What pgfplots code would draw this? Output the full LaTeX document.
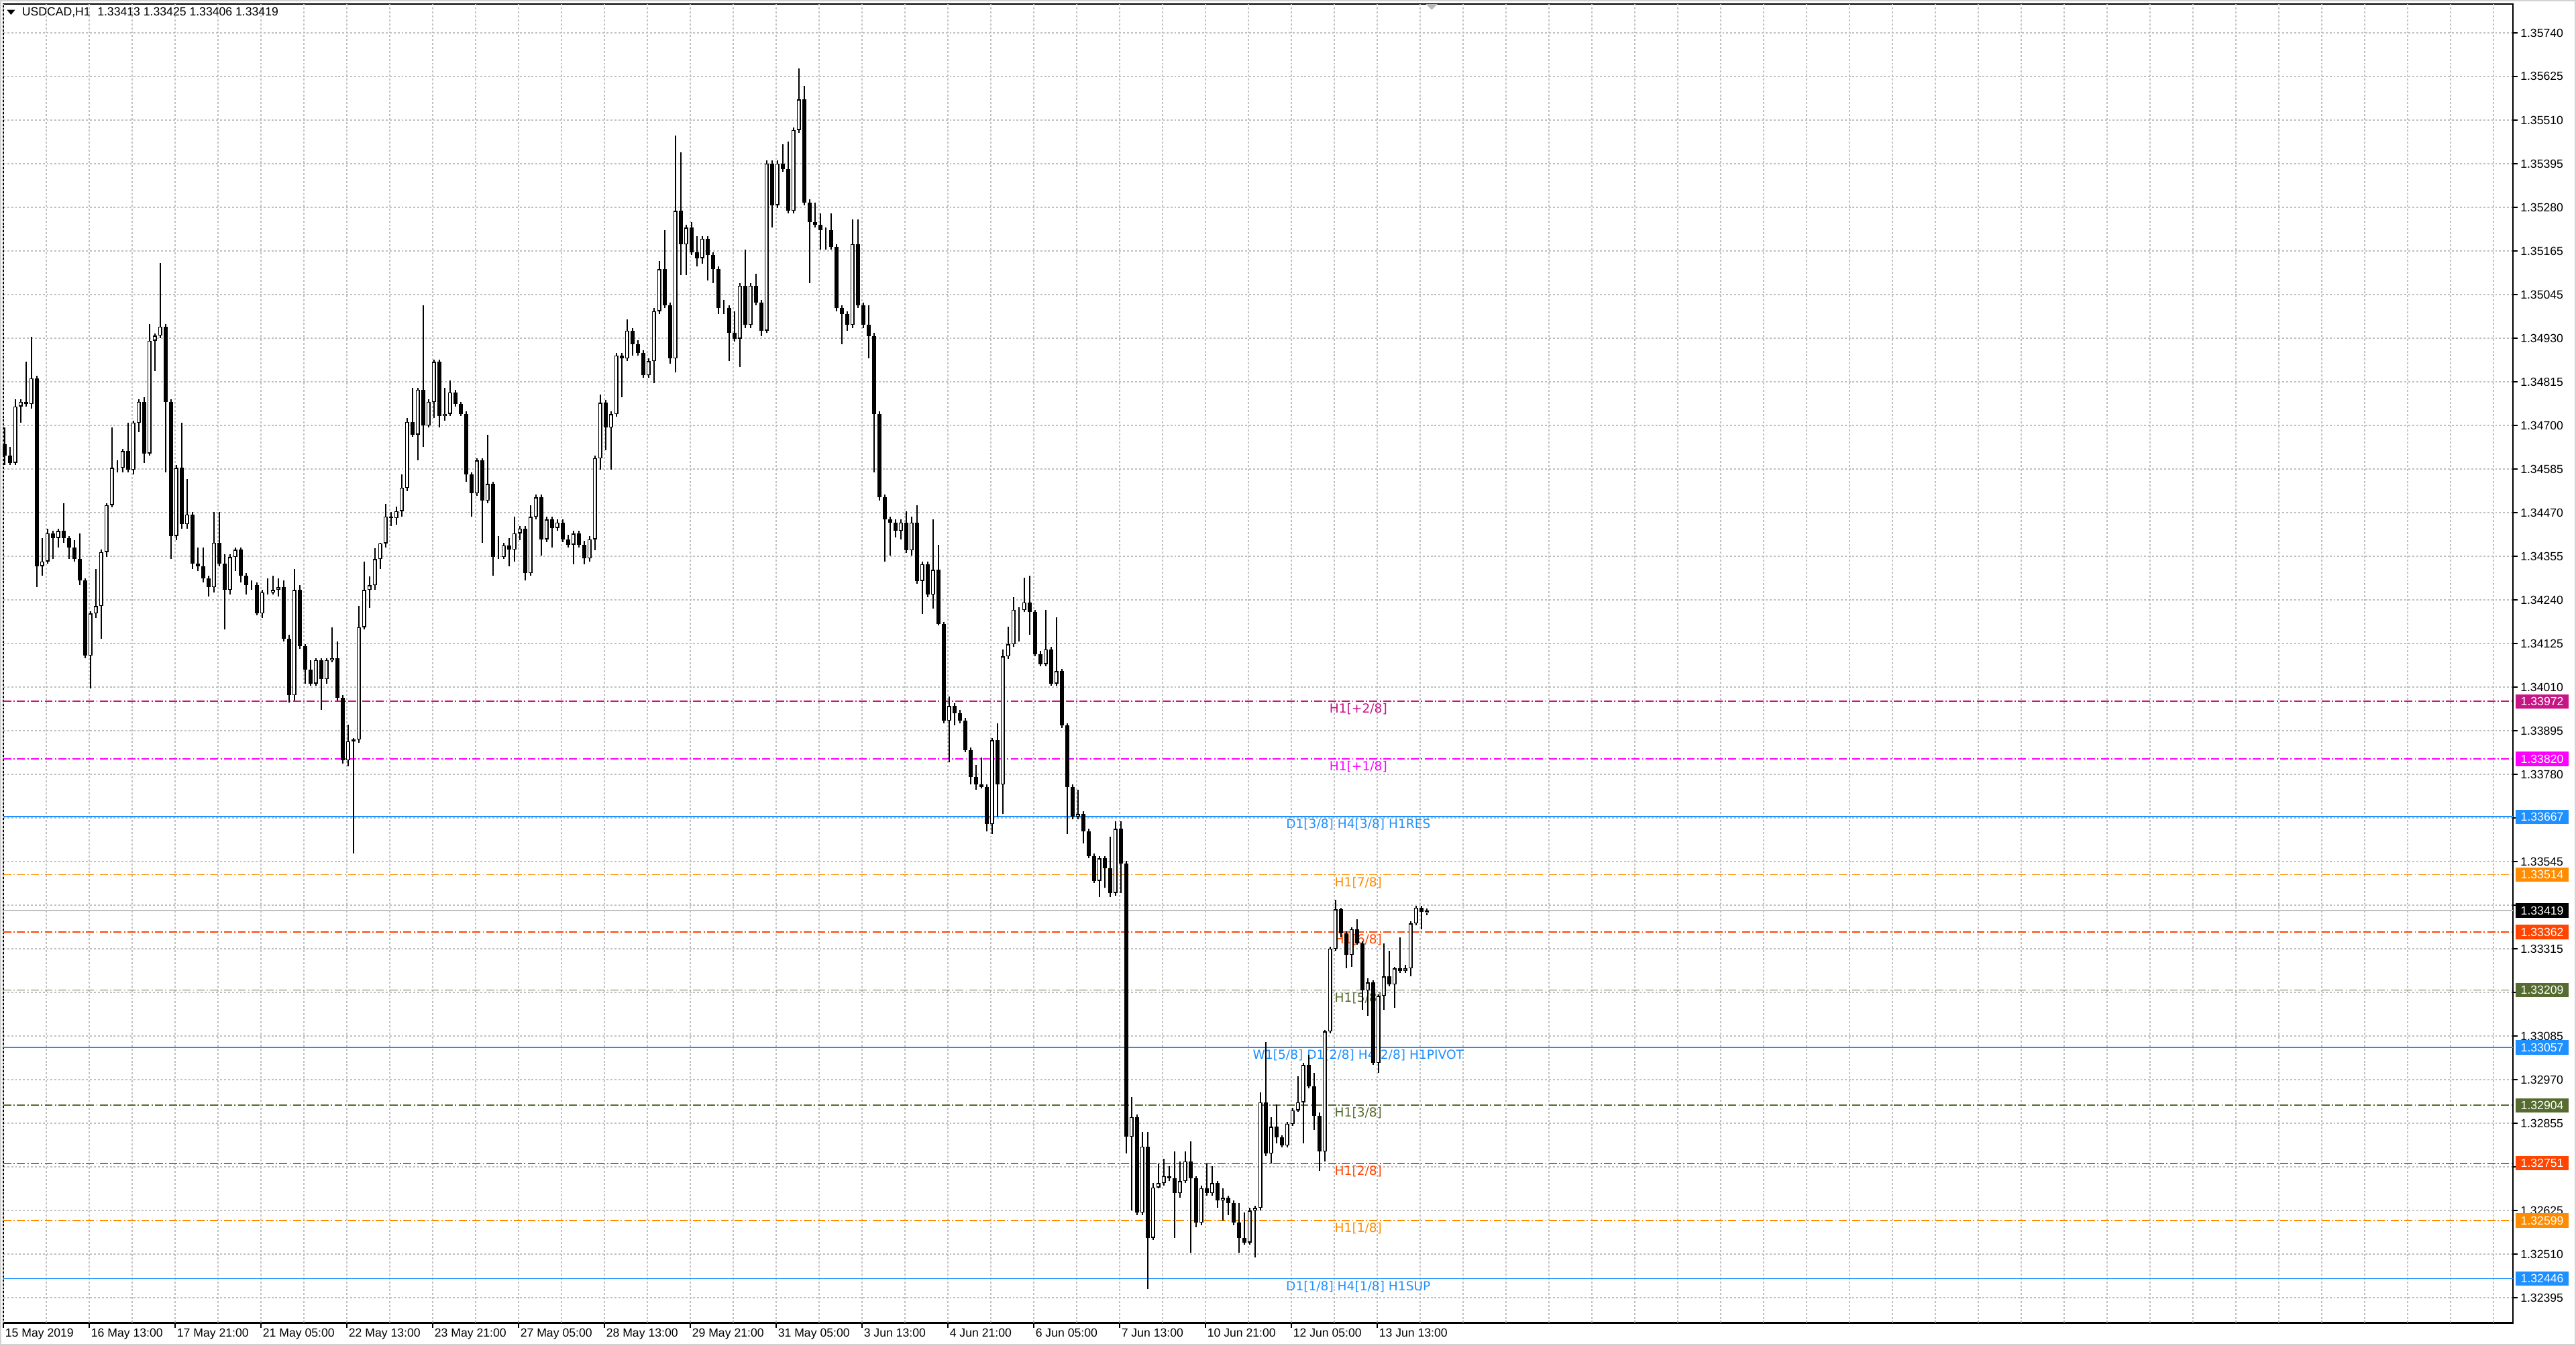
\documentclass[border=0pt]{standalone}
\usepackage{fontspec}
\setmainfont{Liberation Sans}
\newfontfamily\lvlfont{DejaVu Sans}
\usepackage{pgfplots}
\pgfplotsset{compat=1.18}
\usepackage{pgfplotstable}
\definecolor{mvr}{HTML}{C71585}
\definecolor{mag}{HTML}{FF00FF}
\definecolor{dblue}{HTML}{1E90FF}
\definecolor{dorange}{HTML}{FF8C00}
\definecolor{ored}{HTML}{FF4500}
\definecolor{olivec}{HTML}{556B2F}
\definecolor{gridc}{HTML}{C0C0C0}
\newcommand\tickfont{\fontsize{3.6pt}{4.3pt}\selectfont}
\newcommand\lblfont{\lvlfont\fontsize{3.8pt}{4.5pt}\selectfont}

\pgfplotstableread{
t o h l c
0.5 1.34653 1.34696 1.34597 1.34622
2.5 1.34622 1.34646 1.34597 1.34603
4.5 1.34603 1.34771 1.34597 1.34752
6.5 1.34752 1.34771 1.34709 1.34764
8.5 1.34764 1.34870 1.34752 1.34758
10.5 1.34758 1.34936 1.34746 1.34827
12.5 1.34827 1.34833 1.34274 1.34330
14.5 1.34330 1.34404 1.34305 1.34342
16.5 1.34342 1.34429 1.34336 1.34417
18.5 1.34417 1.34423 1.34348 1.34404
20.5 1.34404 1.34429 1.34379 1.34423
22.5 1.34423 1.34497 1.34392 1.34404
24.5 1.34404 1.34410 1.34348 1.34379
26.5 1.34379 1.34398 1.34342 1.34348
28.5 1.34348 1.34417 1.34280 1.34292
30.5 1.34292 1.34298 1.34087 1.34093
32.5 1.34093 1.34211 1.34006 1.34205
34.5 1.34205 1.34323 1.34193 1.34224
36.5 1.34224 1.34373 1.34137 1.34367
38.5 1.34367 1.34497 1.34354 1.34491
40.5 1.34491 1.34696 1.34485 1.34590
42.5 1.34590 1.34609 1.34578 1.34590
44.5 1.34590 1.34640 1.34578 1.34634
46.5 1.34634 1.34709 1.34578 1.34584
48.5 1.34584 1.34715 1.34572 1.34709
50.5 1.34709 1.34771 1.34684 1.34764
52.5 1.34764 1.34777 1.34603 1.34628
54.5 1.34628 1.34970 1.34622 1.34926
56.5 1.34926 1.34945 1.34845 1.34939
58.5 1.34939 1.35131 1.34932 1.34963
60.5 1.34963 1.34970 1.34578 1.34764
62.5 1.34764 1.34771 1.34348 1.34410
64.5 1.34410 1.34597 1.34398 1.34590
66.5 1.34590 1.34709 1.34429 1.34441
68.5 1.34441 1.34560 1.34429 1.34466
70.5 1.34466 1.34473 1.34323 1.34336
72.5 1.34336 1.34379 1.34317 1.34330
74.5 1.34330 1.34379 1.34286 1.34298
76.5 1.34298 1.34305 1.34249 1.34274
78.5 1.34274 1.34473 1.34261 1.34392
80.5 1.34392 1.34473 1.34330 1.34336
82.5 1.34336 1.34361 1.34162 1.34267
84.5 1.34267 1.34361 1.34255 1.34354
86.5 1.34354 1.34379 1.34317 1.34373
88.5 1.34373 1.34379 1.34286 1.34305
90.5 1.34305 1.34311 1.34255 1.34280
92.5 1.34280 1.34292 1.34267 1.34280
94.5 1.34280 1.34286 1.34199 1.34205
96.5 1.34205 1.34267 1.34193 1.34261
98.5 1.34261 1.34298 1.34255 1.34261
100.5 1.34261 1.34305 1.34255 1.34267
102.5 1.34267 1.34298 1.34249 1.34274
104.5 1.34274 1.34292 1.34131 1.34137
106.5 1.34137 1.34149 1.33969 1.33988
108.5 1.33988 1.34323 1.33975 1.34267
110.5 1.34267 1.34280 1.34112 1.34118
112.5 1.34118 1.34124 1.34019 1.34056
114.5 1.34056 1.34081 1.34013 1.34019
116.5 1.34019 1.34087 1.34013 1.34081
118.5 1.34081 1.34087 1.33950 1.34031
120.5 1.34031 1.34087 1.34019 1.34081
122.5 1.34081 1.34168 1.34075 1.34087
124.5 1.34087 1.34131 1.33975 1.33982
126.5 1.33982 1.33988 1.33808 1.33816
128.5 1.33816 1.33911 1.33801 1.33867
130.5 1.33867 1.33876 1.33570 1.33871
132.5 1.33871 1.34224 1.33863 1.34168
134.5 1.34168 1.34342 1.34162 1.34267
136.5 1.34267 1.34303 1.34220 1.34279
138.5 1.34279 1.34378 1.34267 1.34348
140.5 1.34348 1.34392 1.34323 1.34390
142.5 1.34390 1.34494 1.34379 1.34461
144.5 1.34461 1.34473 1.34435 1.34457
146.5 1.34457 1.34488 1.34439 1.34475
148.5 1.34475 1.34572 1.34460 1.34537
150.5 1.34537 1.34721 1.34528 1.34711
152.5 1.34711 1.34802 1.34671 1.34678
154.5 1.34678 1.34802 1.34609 1.34796
156.5 1.34796 1.35019 1.34646 1.34702
158.5 1.34702 1.34771 1.34696 1.34764
160.5 1.34764 1.34876 1.34721 1.34870
162.5 1.34870 1.34876 1.34696 1.34727
164.5 1.34727 1.34802 1.34715 1.34733
166.5 1.34733 1.34820 1.34727 1.34789
168.5 1.34789 1.34796 1.34752 1.34758
170.5 1.34758 1.34764 1.34727 1.34733
172.5 1.34733 1.34740 1.34553 1.34572
174.5 1.34572 1.34578 1.34460 1.34522
176.5 1.34522 1.34615 1.34516 1.34609
178.5 1.34609 1.34615 1.34392 1.34503
180.5 1.34503 1.34678 1.34497 1.34547
182.5 1.34547 1.34553 1.34305 1.34354
184.5 1.34354 1.34410 1.34348 1.34354
186.5 1.34354 1.34392 1.34348 1.34385
188.5 1.34385 1.34404 1.34330 1.34373
190.5 1.34373 1.34460 1.34342 1.34417
192.5 1.34417 1.34435 1.34398 1.34429
194.5 1.34429 1.34435 1.34292 1.34311
196.5 1.34311 1.34491 1.34305 1.34460
198.5 1.34460 1.34519 1.34453 1.34512
200.5 1.34512 1.34519 1.34357 1.34401
202.5 1.34401 1.34460 1.34394 1.34453
204.5 1.34453 1.34460 1.34379 1.34431
206.5 1.34431 1.34453 1.34423 1.34445
208.5 1.34445 1.34453 1.34394 1.34401
210.5 1.34401 1.34412 1.34379 1.34387
212.5 1.34387 1.34423 1.34335 1.34416
214.5 1.34416 1.34423 1.34379 1.34387
216.5 1.34387 1.34397 1.34335 1.34350
218.5 1.34350 1.34409 1.34342 1.34401
220.5 1.34401 1.34622 1.34372 1.34615
222.5 1.34615 1.34784 1.34585 1.34762
224.5 1.34762 1.34769 1.34637 1.34696
226.5 1.34696 1.34740 1.34585 1.34732
228.5 1.34732 1.34894 1.34725 1.34887
230.5 1.34887 1.34894 1.34776 1.34879
232.5 1.34879 1.34982 1.34872 1.34953
234.5 1.34953 1.34960 1.34887 1.34916
236.5 1.34916 1.34927 1.34887 1.34894
238.5 1.34894 1.34901 1.34828 1.34835
240.5 1.34835 1.34879 1.34828 1.34872
242.5 1.34872 1.35012 1.34813 1.35004
244.5 1.35004 1.35137 1.34997 1.35115
246.5 1.35115 1.35218 1.35012 1.35019
248.5 1.35019 1.35027 1.34865 1.34879
250.5 1.34879 1.35468 1.34843 1.35269
252.5 1.35269 1.35424 1.35100 1.35181
254.5 1.35181 1.35232 1.35100 1.35225
256.5 1.35225 1.35240 1.35152 1.35159
258.5 1.35159 1.35203 1.35122 1.35144
260.5 1.35144 1.35203 1.35130 1.35196
262.5 1.35196 1.35203 1.35085 1.35152
264.5 1.35152 1.35159 1.35078 1.35115
266.5 1.35115 1.35122 1.34997 1.35012
268.5 1.35012 1.35034 1.34997 1.35012
270.5 1.35012 1.35019 1.34872 1.34946
272.5 1.34946 1.35004 1.34924 1.34931
274.5 1.34931 1.35078 1.34857 1.35071
276.5 1.35071 1.35166 1.34960 1.34968
278.5 1.34968 1.35078 1.34960 1.35071
280.5 1.35071 1.35103 1.35019 1.35027
282.5 1.35027 1.35034 1.34938 1.34953
284.5 1.34953 1.35402 1.34946 1.35394
286.5 1.35394 1.35402 1.35225 1.35284
288.5 1.35284 1.35402 1.35277 1.35394
290.5 1.35394 1.35446 1.35372 1.35380
292.5 1.35380 1.35453 1.35262 1.35269
294.5 1.35269 1.35490 1.35262 1.35483
296.5 1.35483 1.35645 1.35475 1.35564
298.5 1.35564 1.35600 1.35284 1.35291
300.5 1.35291 1.35299 1.35078 1.35240
302.5 1.35240 1.35291 1.35225 1.35233
304.5 1.35233 1.35262 1.35166 1.35218
306.5 1.35218 1.35225 1.35166 1.35218
308.5 1.35218 1.35262 1.35166 1.35174
310.5 1.35174 1.35181 1.35004 1.35012
312.5 1.35012 1.35019 1.34916 1.34997
314.5 1.34997 1.35004 1.34953 1.34968
316.5 1.34968 1.35247 1.34960 1.35181
318.5 1.35181 1.35247 1.35012 1.35019
320.5 1.35019 1.35027 1.34960 1.34968
322.5 1.34968 1.35019 1.34879 1.34938
324.5 1.34938 1.34946 1.34578 1.34732
326.5 1.34732 1.34740 1.34504 1.34512
328.5 1.34512 1.34519 1.34342 1.34453
330.5 1.34453 1.34460 1.34357 1.34445
332.5 1.34445 1.34453 1.34406 1.34423
334.5 1.34423 1.34453 1.34401 1.34445
336.5 1.34445 1.34475 1.34364 1.34372
338.5 1.34372 1.34460 1.34357 1.34445
340.5 1.34445 1.34490 1.34284 1.34291
342.5 1.34291 1.34342 1.34203 1.34335
344.5 1.34335 1.34342 1.34247 1.34254
346.5 1.34254 1.34453 1.34218 1.34320
348.5 1.34320 1.34387 1.34173 1.34176
350.5 1.34176 1.34182 1.33915 1.33921
352.5 1.33921 1.33986 1.33811 1.33960
354.5 1.33960 1.33967 1.33908 1.33941
356.5 1.33941 1.33950 1.33915 1.33921
358.5 1.33921 1.33928 1.33837 1.33843
360.5 1.33843 1.33850 1.33752 1.33772
362.5 1.33772 1.33804 1.33739 1.33752
364.5 1.33752 1.33824 1.33742 1.33746
366.5 1.33746 1.33752 1.33628 1.33648
368.5 1.33648 1.33876 1.33622 1.33869
370.5 1.33869 1.33915 1.33667 1.33752
372.5 1.33752 1.34110 1.33674 1.34091
374.5 1.34091 1.34169 1.34084 1.34123
376.5 1.34123 1.34247 1.34117 1.34214
378.5 1.34214 1.34221 1.34130 1.34214
380.5 1.34214 1.34299 1.34208 1.34234
382.5 1.34234 1.34305 1.34149 1.34208
384.5 1.34208 1.34214 1.34091 1.34097
386.5 1.34097 1.34106 1.34065 1.34071
388.5 1.34071 1.34214 1.34065 1.34110
390.5 1.34110 1.34117 1.34013 1.34019
392.5 1.34019 1.34195 1.34013 1.34052
394.5 1.34052 1.34058 1.33902 1.33908
396.5 1.33908 1.33915 1.33622 1.33746
398.5 1.33746 1.33752 1.33661 1.33667
400.5 1.33667 1.33739 1.33661 1.33674
402.5 1.33674 1.33681 1.33596 1.33628
404.5 1.33628 1.33635 1.33557 1.33563
406.5 1.33563 1.33570 1.33492 1.33498
408.5 1.33498 1.33563 1.33455 1.33557
410.5 1.33557 1.33563 1.33479 1.33531
412.5 1.33531 1.33615 1.33455 1.33466
414.5 1.33466 1.33655 1.33459 1.33635
416.5 1.33635 1.33655 1.33466 1.33544
418.5 1.33544 1.33550 1.32776 1.32821
420.5 1.32821 1.32926 1.32626 1.32873
422.5 1.32873 1.32880 1.32613 1.32620
424.5 1.32620 1.32834 1.32613 1.32795
426.5 1.32795 1.32834 1.32418 1.32554
428.5 1.32554 1.32698 1.32548 1.32687
430.5 1.32687 1.32750 1.32685 1.32698
432.5 1.32698 1.32763 1.32691 1.32717
434.5 1.32717 1.32743 1.32704 1.32711
436.5 1.32711 1.32782 1.32554 1.32672
438.5 1.32672 1.32756 1.32659 1.32704
440.5 1.32704 1.32782 1.32698 1.32756
442.5 1.32756 1.32808 1.32514 1.32711
444.5 1.32711 1.32717 1.32581 1.32594
446.5 1.32594 1.32691 1.32587 1.32685
448.5 1.32685 1.32750 1.32665 1.32672
450.5 1.32672 1.32743 1.32665 1.32698
452.5 1.32698 1.32704 1.32633 1.32652
454.5 1.32652 1.32685 1.32600 1.32659
456.5 1.32659 1.32665 1.32613 1.32646
458.5 1.32646 1.32652 1.32587 1.32594
460.5 1.32594 1.32646 1.32514 1.32554
462.5 1.32554 1.32620 1.32535 1.32541
464.5 1.32541 1.32633 1.32535 1.32626
466.5 1.32626 1.32639 1.32502 1.32633
468.5 1.32633 1.32939 1.32626 1.32912
470.5 1.32912 1.33072 1.32769 1.32776
472.5 1.32776 1.32873 1.32750 1.32847
474.5 1.32847 1.32907 1.32803 1.32819
476.5 1.32819 1.32824 1.32793 1.32798
478.5 1.32798 1.32860 1.32793 1.32855
480.5 1.32855 1.32897 1.32850 1.32891
482.5 1.32891 1.32981 1.32886 1.32912
484.5 1.32912 1.33016 1.32803 1.33011
486.5 1.33011 1.33037 1.32949 1.32954
488.5 1.32954 1.32990 1.32839 1.32876
490.5 1.32876 1.32886 1.32730 1.32782
492.5 1.32782 1.33104 1.32756 1.33099
494.5 1.33099 1.33323 1.33094 1.33318
496.5 1.33318 1.33448 1.33312 1.33422
498.5 1.33422 1.33427 1.33349 1.33359
500.5 1.33359 1.33364 1.33266 1.33302
502.5 1.33302 1.33375 1.33271 1.33370
504.5 1.33370 1.33396 1.33328 1.33333
506.5 1.33333 1.33338 1.33156 1.33208
508.5 1.33208 1.33240 1.33141 1.33229
510.5 1.33229 1.33234 1.33011 1.33016
512.5 1.33016 1.33198 1.32990 1.33193
514.5 1.33193 1.33333 1.33156 1.33245
516.5 1.33245 1.33312 1.33219 1.33224
518.5 1.33224 1.33271 1.33162 1.33266
520.5 1.33266 1.33349 1.33255 1.33260
522.5 1.33260 1.33276 1.33255 1.33266
524.5 1.33266 1.33390 1.33245 1.33385
526.5 1.33385 1.33432 1.33380 1.33427
528.5 1.33427 1.33432 1.33370 1.33416
530.5 1.33413 1.33425 1.33406 1.33419
}\candles

\pgfplotsset{
  wick/.style={draw=none, mark=none, forget plot,
    error bars/y dir=plus, error bars/y explicit, error bars/error mark=none,
    error bars/error bar style={draw=black, solid, line width=0.5pt}},
  body/.style={draw=none, mark=none, forget plot,
    error bars/y dir=plus, error bars/y explicit, error bars/error mark=none,
    error bars/error bar style={draw=black, solid, line width=1.2pt}},
  hole/.style={draw=none, mark=none, forget plot,
    error bars/y dir=plus, error bars/y explicit, error bars/error mark=none,
    error bars/error bar style={draw=white, solid, line width=0.6pt}},
  dd/.style={forget plot, line width=0.38pt, dash pattern=on 2.4pt off 0.7pt on 0.4pt off 0.7pt},
  sl/.style={forget plot, line width=0.38pt},
}
\tikzset{
  lbl/.style={anchor=north, inner sep=0pt, font=\lblfont, yshift=-0.5pt},
  pbox/.style={anchor=west, xshift=0.7pt, minimum width=16pt, minimum height=4.4pt, inner sep=0pt, text=white, font=\tickfont},
}

\begin{document}
\begin{tikzpicture}[x=0.5pt,y=0.5pt]
\begin{axis}[
  name=ax, at={(0,0)}, anchor=south west, scale only axis,
  width=763.8pt, height=401.25pt,
  xmin=0, xmax=935.3, ymin=1.32329, ymax=1.35816,
  axis line style={black, line width=0.5pt},
  clip=false,
  xtick={0,32,...,512},
  xticklabels={15 May 2019,16 May 13:00,17 May 21:00,21 May 05:00,22 May 13:00,23 May 21:00,27 May 05:00,28 May 13:00,29 May 21:00,31 May 05:00,3 Jun 13:00,4 Jun 21:00,6 Jun 05:00,7 Jun 13:00,10 Jun 21:00,12 Jun 05:00,13 Jun 13:00},
  xtick pos=left, ytick pos=right, yticklabel pos=right,
  tick align=outside, major tick length=1.5pt,
  tick style={black, line width=0.5pt},
  x tick label style={anchor=north west, inner sep=0pt, font=\tickfont, xshift=0.4pt},
  y tick label style={anchor=west, inner sep=0pt, font=\tickfont, xshift=0.6pt},
  ytick={1.35740,1.356247,1.355093,1.353940,1.352786,1.351633,1.350480,1.349326,1.348173,1.347019,1.345866,1.344713,1.343559,1.342406,1.341252,1.340099,1.338946,1.337792,1.336639,1.335485,1.334332,1.333179,1.332025,1.330872,1.329718,1.328565,1.327412,1.326258,1.325105,1.323951},
  yticklabels={1.35740,1.35625,1.35510,1.35395,1.35280,1.35165,1.35045,1.34930,1.34815,1.34700,1.34585,1.34470,1.34355,1.34240,1.34125,1.34010,1.33895,1.33780,{},1.33545,{},1.33315,{},1.33085,1.32970,1.32855,{},1.32625,1.32510,1.32395},
  ymajorgrids=true,
  extra x ticks={0,16,...,928}, extra x tick labels={},
  extra x tick style={xmajorgrids=true, major tick length=0pt},
  grid style={gridc, line width=0.4pt, dash pattern=on 0.6pt off 0.6pt},
]
% level lines
\addplot[dd, mvr] coordinates {(0,1.33972) (935.3,1.33972)};
\addplot[dd, mag] coordinates {(0,1.33820) (935.3,1.33820)};
\addplot[sl, dblue] coordinates {(0,1.33667) (935.3,1.33667)};
\addplot[dd, dorange] coordinates {(0,1.33514) (935.3,1.33514)};
\addplot[sl, gridc] coordinates {(0,1.33419) (935.3,1.33419)};
\addplot[dd, ored] coordinates {(0,1.33362) (935.3,1.33362)};
\addplot[dd, olivec] coordinates {(0,1.33209) (935.3,1.33209)};
\addplot[sl, dblue] coordinates {(0,1.33057) (935.3,1.33057)};
\addplot[dd, olivec] coordinates {(0,1.32904) (935.3,1.32904)};
\addplot[dd, ored] coordinates {(0,1.32751) (935.3,1.32751)};
\addplot[dd, dorange] coordinates {(0,1.32599) (935.3,1.32599)};
\addplot[sl, dblue] coordinates {(0,1.32446) (935.3,1.32446)};
% level labels
\node[lbl, text=mvr] at (axis cs:505,1.33972) {H1[+2/8]};
\node[lbl, text=mag] at (axis cs:505,1.33820) {H1[+1/8]};
\node[lbl, text=dblue] at (axis cs:505,1.33667) {D1[3/8] H4[3/8] H1RES};
\node[lbl, text=dorange] at (axis cs:505,1.33514) {H1[7/8]};
\node[lbl, text=ored] at (axis cs:505,1.33362) {H1[6/8]};
\node[lbl, text=olivec] at (axis cs:505,1.33209) {H1[5/8]};
\node[lbl, text=dblue] at (axis cs:505,1.33057) {W1[5/8] D1[2/8] H4[2/8] H1PIVOT};
\node[lbl, text=olivec] at (axis cs:505,1.32904) {H1[3/8]};
\node[lbl, text=ored] at (axis cs:505,1.32751) {H1[2/8]};
\node[lbl, text=dorange] at (axis cs:505,1.32599) {H1[1/8]};
\node[lbl, text=dblue] at (axis cs:505,1.32446) {D1[1/8] H4[1/8] H1SUP};
% candles
\addplot[wick] table[x=t, y=l, y error expr=\thisrow{h}-\thisrow{l}] {\candles};
\addplot[body] table[x=t, y=c, y error expr={max(\thisrow{o}-\thisrow{c},0)}] {\candles};
\addplot[body] table[x=t, y=o, y error expr={max(\thisrow{c}-\thisrow{o},0)}] {\candles};
\addplot[hole] table[x=t, y expr=\thisrow{o}+0.000026, y error expr={max(\thisrow{c}-\thisrow{o}-0.000052,0)}] {\candles};
% price boxes
\node[pbox, fill=mvr] at (axis cs:935.3,1.33972) {1.33972};
\node[pbox, fill=mag] at (axis cs:935.3,1.33820) {1.33820};
\node[pbox, fill=dblue] at (axis cs:935.3,1.33667) {1.33667};
\node[pbox, fill=dorange] at (axis cs:935.3,1.33514) {1.33514};
\node[pbox, fill=black] at (axis cs:935.3,1.33419) {1.33419};
\node[pbox, fill=ored] at (axis cs:935.3,1.33362) {1.33362};
\node[pbox, fill=olivec] at (axis cs:935.3,1.33209) {1.33209};
\node[pbox, fill=dblue] at (axis cs:935.3,1.33057) {1.33057};
\node[pbox, fill=olivec] at (axis cs:935.3,1.32904) {1.32904};
\node[pbox, fill=ored] at (axis cs:935.3,1.32751) {1.32751};
\node[pbox, fill=dorange] at (axis cs:935.3,1.32599) {1.32599};
\node[pbox, fill=dblue] at (axis cs:935.3,1.32446) {1.32446};
\end{axis}
\pgfresetboundingbox
\path[use as bounding box] ([shift={(-2,-14)}]ax.south west) rectangle ([shift={(1566,805)}]ax.south west);
\draw[gray!35, line width=0.5pt] ([shift={(-1.5,-13.5)}]ax.south west) rectangle ([shift={(1565.5,804.5)}]ax.south west);
% title and markers
\fill[black] ([shift={(2.2,799)}]ax.south west) -- ([shift={(7.2,799)}]ax.south west) -- ([shift={(4.7,796)}]ax.south west) -- cycle;
\node[anchor=west, inner sep=0pt, font=\tickfont] at ([shift={(11,797.5)}]ax.south west) {USDCAD,H1\hspace{0.6em}1.33413 1.33425 1.33406 1.33419};
\fill[gray!55] ([shift={(866,802.5)}]ax.south west) -- ([shift={(873,802.5)}]ax.south west) -- ([shift={(869.5,799)}]ax.south west) -- cycle;
\end{tikzpicture}
\end{document}
